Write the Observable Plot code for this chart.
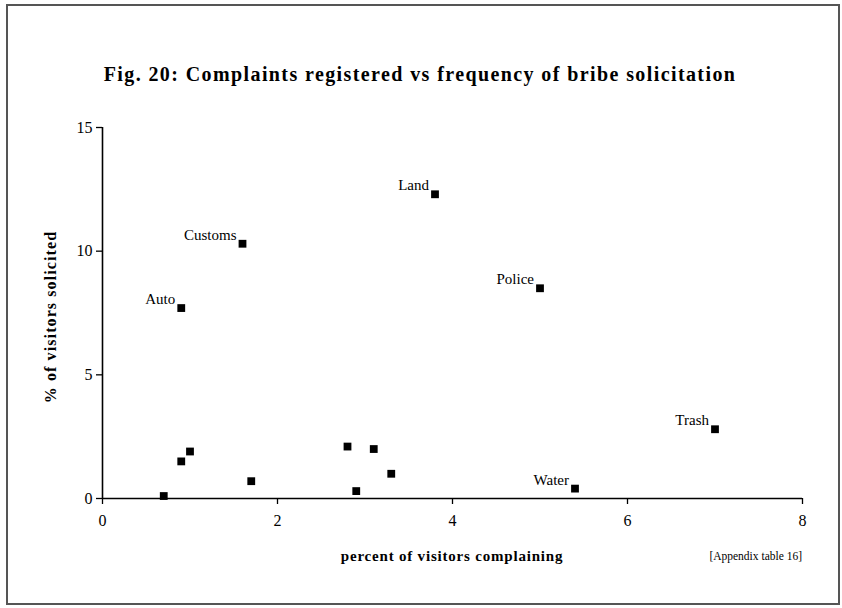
<!DOCTYPE html>
<html>
<head>
<meta charset="utf-8">
<script src="https://cdn.jsdelivr.net/npm/d3@7"></script>
<script src="https://cdn.jsdelivr.net/npm/@observablehq/plot@0.6"></script>
<style>
  html, body { margin: 0; padding: 0; background: #fff; }
</style>
</head>
<body>
<div id="chart"></div>
<script>
// Data
const names = ["", "", "", "", "", "", "", "", "Land", "Customs", "Police", "Auto", "Trash", "Water"];
const complaining = [0.7, 0.9, 1.0, 1.7, 2.8, 2.9, 3.1, 3.3, 3.8, 1.6, 5.0, 0.9, 7.0, 5.4];
const solicited   = [0.1, 1.5, 1.9, 0.7, 2.1, 0.3, 2.0, 1.0, 12.3, 10.3, 8.5, 7.7, 2.8, 0.4];
const xTicks = [0, 2, 4, 6, 8];
const yTicks = [0, 5, 10, 15];

const titleText = "Fig. 20: Complaints registered vs frequency of bribe solicitation";
const xLabel = "percent of visitors complaining";
const yLabel = "% of visitors solicited";
const sourceText = "[Appendix table 16]";

const data = names.map((n, i) => ({name: n, x: complaining[i], y: solicited[i]}));

const W = 842, H = 608;
const serif = "'Liberation Serif', 'Times New Roman', serif";

const plot = Plot.plot({
  width: W,
  height: H,
  marginLeft: 102,
  marginRight: 40,
  marginTop: 127,
  marginBottom: 110,
  style: {fontFamily: serif, fontSize: "16px", color: "black", background: "white", overflow: "visible"},
  x: {domain: [0, 8]},
  y: {domain: [0, 15]},
  marks: [
    Plot.axisX({ticks: xTicks, tickSize: 6, tickPadding: 10, label: null, fontSize: 16, stroke: "black", strokeWidth: 1.3}),
    Plot.axisY({ticks: yTicks, tickSize: 6, tickPadding: 4, label: null, fontSize: 16, stroke: "black", strokeWidth: 1.3}),
    Plot.ruleY([0], {stroke: "black", strokeWidth: 1.6}),
    Plot.ruleX([0], {stroke: "black", strokeWidth: 1.6}),
    Plot.dot(data, {x: "x", y: "y", symbol: "square", r: 4.4, fill: "black", stroke: "none"}),
    Plot.text(data.filter(d => d.name), {x: "x", y: "y", text: "name", textAnchor: "end", lineAnchor: "bottom", dx: -6, dy: -4, fontSize: 15, fill: "black"})
  ]
});

const svg = d3.select(plot);
// border
svg.insert("rect", ":first-child")
  .attr("x", 7).attr("y", 5).attr("width", 832).attr("height", 599)
  .attr("fill", "white").attr("stroke", "#555").attr("stroke-width", 2);
// title
svg.append("text")
  .attr("x", 420).attr("y", 81)
  .attr("text-anchor", "middle")
  .attr("font-family", serif).attr("font-weight", "bold").attr("font-size", 20)
  .attr("letter-spacing", "1.4px")
  .attr("fill", "black")
  .text(titleText);
// x label
svg.append("text")
  .attr("x", 452).attr("y", 561)
  .attr("text-anchor", "middle")
  .attr("font-family", serif).attr("font-weight", "bold").attr("font-size", 15)
  .attr("letter-spacing", "0.8px")
  .attr("fill", "black")
  .text(xLabel);
// source
svg.append("text")
  .attr("x", 802).attr("y", 560)
  .attr("text-anchor", "end")
  .attr("font-family", serif).attr("font-size", 11.5)
  .attr("fill", "black")
  .text(sourceText);
// y label
svg.append("text")
  .attr("transform", "translate(56,317) rotate(-90)")
  .attr("text-anchor", "middle")
  .attr("font-family", serif).attr("font-weight", "bold").attr("font-size", 16)
  .attr("letter-spacing", "1.1px")
  .attr("fill", "black")
  .text(yLabel);

document.getElementById("chart").appendChild(plot);
</script>
</body>
</html>
